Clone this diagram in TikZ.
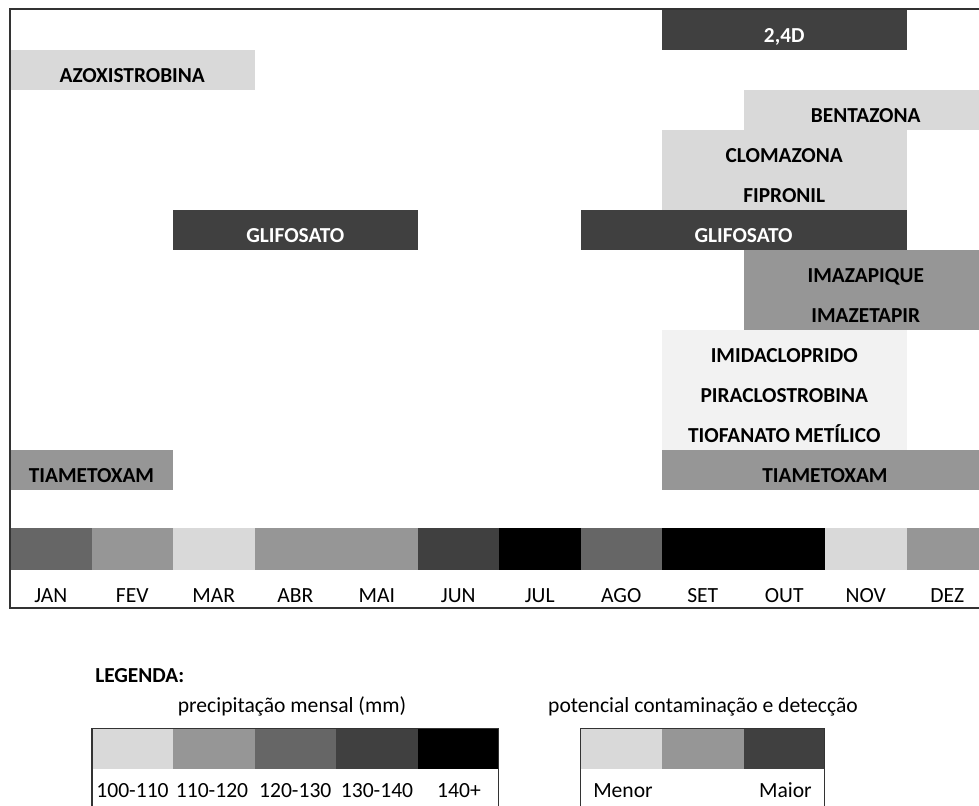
\documentclass[tikz,border=0pt]{standalone}
\usepackage{fontspec}
\setmainfont{Carlito}
\usepackage{tikz}
\definecolor{cinzaA}{HTML}{D9D9D9}
\definecolor{cinzaB}{HTML}{969696}
\definecolor{cinzaC}{HTML}{666666}
\definecolor{cinzaD}{HTML}{404040}
\definecolor{cinzaE}{HTML}{F2F2F2}
\definecolor{moldura}{HTML}{333333}
\tikzset{
	rotulo/.style={anchor=base, inner sep=0pt, font=\bfseries\fontsize{16}{19}\selectfont},
	texto/.style={anchor=base, inner sep=0pt, font=\fontsize{16.2}{19}\selectfont},
}
\def\faixa[#1](#2:#3:#4){\fill[#1] (#2, #4) rectangle (#3, #4+40);}

\begin{document}
\begin{tikzpicture}[x=0.75pt, y=-0.75pt]
		%%%%% START %%%%%
		\useasboundingbox (0, 0) rectangle (979, 806);
		\clip (0, 0) rectangle (979, 806);
		
		% aplicacoes
		\faixa[cinzaD](662:906.5:10);
		\node[rotulo, white] (dquatro) at (784.25, 42.5) {2,4D};
		
		\faixa[cinzaA](10:254.5:50);
		\node[rotulo] (azox) at (132.25, 82.5) {AZOXISTROBINA};
		
		\faixa[cinzaA](743.5:988:90);
		\node[rotulo] (bent) at (865.75, 122.5) {BENTAZONA};
		
		\fill[cinzaA] (662, 130) rectangle (906.5, 210);
		\node[rotulo] (clom) at (784.25, 162.5) {CLOMAZONA};
		\node[rotulo] (fipr) at (784.25, 202.5) {FIPRONIL};
		
		\faixa[cinzaD](173:417.5:210);
		\node[rotulo, white] (glifA) at (295.25, 242.5) {GLIFOSATO};
		\faixa[cinzaD](580.5:906.5:210);
		\node[rotulo, white] (glifB) at (743.5, 242.5) {GLIFOSATO};
		
		\fill[cinzaB] (743.5, 250) rectangle (988, 330);
		\node[rotulo] (imzq) at (865.75, 282.5) {IMAZAPIQUE};
		\node[rotulo] (imzt) at (865.75, 322.5) {IMAZETAPIR};
		
		\fill[cinzaE] (662, 330) rectangle (906.5, 450);
		\node[rotulo] (imid) at (784.25, 362.5) {IMIDACLOPRIDO};
		\node[rotulo] (pira) at (784.25, 402.5) {PIRACLOSTROBINA};
		\node[rotulo] (tiof) at (784.25, 442.5) {TIOFANATO METÍLICO};
		
		\faixa[cinzaB](10:173:450);
		\node[rotulo] (tiamA) at (91.5, 482.5) {TIAMETOXAM};
		\faixa[cinzaB](662:988:450);
		\node[rotulo] (tiamB) at (825, 482.5) {TIAMETOXAM};
		
		% precipitacao por mes
		\fill[cinzaC] (10, 528) rectangle (91.5, 570);
		\fill[cinzaB] (91.5, 528) rectangle (173, 570);
		\fill[cinzaA] (173, 528) rectangle (254.5, 570);
		\fill[cinzaB] (254.5, 528) rectangle (417.5, 570);
		\fill[cinzaD] (417.5, 528) rectangle (499, 570);
		\fill[black] (499, 528) rectangle (580.5, 570);
		\fill[cinzaC] (580.5, 528) rectangle (662, 570);
		\fill[black] (662, 528) rectangle (825, 570);
		\fill[cinzaA] (825, 528) rectangle (906.5, 570);
		\fill[cinzaB] (906.5, 528) rectangle (988, 570);
		
		\node[texto] (jan) at (50.75, 602.5) {JAN};
		\node[texto] (fev) at (132.25, 602.5) {FEV};
		\node[texto] (mar) at (213.75, 602.5) {MAR};
		\node[texto] (abr) at (295.25, 602.5) {ABR};
		\node[texto] (mai) at (376.75, 602.5) {MAI};
		\node[texto] (jun) at (458.25, 602.5) {JUN};
		\node[texto] (jul) at (539.75, 602.5) {JUL};
		\node[texto] (ago) at (621.25, 602.5) {AGO};
		\node[texto] (set) at (702.75, 602.5) {SET};
		\node[texto] (out) at (784.25, 602.5) {OUT};
		\node[texto] (nov) at (865.75, 602.5) {NOV};
		\node[texto] (dez) at (947.25, 602.5) {DEZ};
		
		\draw[line width=1.5, moldura] (988, 9) -- (10, 9) -- (10, 608) -- (988, 608);
		
		% legenda
		\node[rotulo, anchor=base west] (legenda) at (95, 682) {LEGENDA:};
		\node[texto] (tprec) at (292, 712.5) {precipitação mensal (mm)};
		\fill[cinzaA] (92, 729) rectangle (173, 769);
		\fill[cinzaB] (173, 729) rectangle (254.5, 769);
		\fill[cinzaC] (254.5, 729) rectangle (336, 769);
		\fill[cinzaD] (336, 729) rectangle (417.5, 769);
		\fill[black] (417.5, 729) rectangle (498.5, 769);
		\draw[line width=1.2, moldura] (92, 820) -- (92, 728.5) -- (498.5, 728.5) -- (498.5, 820);
		\node[texto] (pa) at (132.5, 797) {100-110};
		\node[texto] (pb) at (212, 797) {110-120};
		\node[texto] (pc) at (295.25, 797) {120-130};
		\node[texto] (pd) at (377, 797) {130-140};
		\node[texto] (pe) at (459, 797) {140+};
		
		\node[texto] (tpot) at (703, 712.5) {potencial contaminação e detecção};
		\fill[cinzaA] (580.5, 729) rectangle (662, 769);
		\fill[cinzaB] (662, 729) rectangle (743.5, 769);
		\fill[cinzaD] (743.5, 729) rectangle (824.5, 769);
		\draw[line width=1.2, moldura] (580.5, 820) -- (580.5, 728.5) -- (824.5, 728.5) -- (824.5, 820);
		\node[texto, anchor=base west] (menor) at (593, 797) {Menor};
		\node[texto, anchor=base east] (maior) at (812, 797) {Maior};
		%%%%% END %%%%%
	\end{tikzpicture}
\end{document}
